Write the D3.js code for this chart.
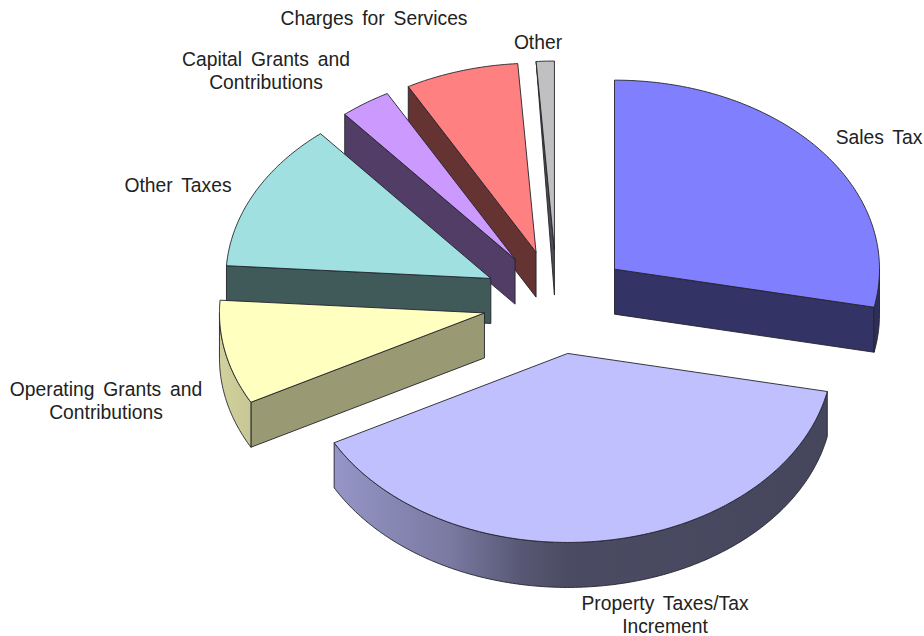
<!DOCTYPE html>
<html>
<head>
<meta charset="utf-8">
<style>
  html, body { margin: 0; padding: 0; background: #fff; }
  svg { display: block; }
  text { font-family: "Liberation Sans", Arial, sans-serif; font-size: 19.3px; fill: #222; word-spacing: 3.5px; }
</style>
<script src="https://cdn.jsdelivr.net/npm/d3@7/dist/d3.min.js"></script>
</head>
<body>
<div id="chart"></div>
<script>
// Revenue shares, clockwise from twelve o'clock (percent)
const categories = ["Sales Tax", "Property Taxes/Tax Increment", "Operating Grants and Contributions",
                    "Other Taxes", "Capital Grants and Contributions", "Charges for Services", "Other"];
const shares = [28.2, 38.9, 8.9, 12.8, 3.1, 6.9, 1.1];
const topColors = ["#8080ff", "#c0c0ff", "#ffffc0", "#a0e0e0", "#cc99ff", "#ff8080", "#c0c0c0"];
const faceShades = [0.4, 0.4, 0.6, 0.4, 0.4, 0.4, 0.4];
// Share of the wall height kept at the outer corner of each radial wall
const cornerDrop = [1, 1, 1, 1, 1, 1, 0];
// Back-to-front painting order, by index into categories
const paintOrder = [6, 5, 4, 3, 2, 0, 1];

// Wrapped label lines with their anchor points
const labelLines = [
  [["Sales Tax", 879, 144]],
  [["Property Taxes/Tax", 665, 610], ["Increment", 665, 633]],
  [["Operating Grants and", 106, 396], ["Contributions", 106, 419]],
  [["Other Taxes", 178, 192]],
  [["Capital Grants and", 266, 66], ["Contributions", 266, 89]],
  [["Charges for Services", 374, 24.5]],
  [["Other", 538, 49]]
];

const width = 924, height = 636;
const cx = 557, cy = 302, rx = 265, ry = 189, depth = 45;
const explodeX = 0.28, explodeY = 0.275;

const xs = d3.scaleLinear().domain([-1, 1]).range([cx - rx, cx + rx]);
const ys = d3.scaleLinear().domain([-1, 1]).range([cy - ry, cy + ry]);
// Wall brightness falls quickly from the lit left side and levels off past the middle
const rimStops = [0, 0.28, 0.41, 0.5, 1];
const rimShade = d3.scaleLinear().domain(rimStops).range([0.82, 0.63, 0.46, 0.39, 0.36]);

const svg = d3.select("#chart").append("svg").attr("width", width).attr("height", height);
const defs = svg.append("defs");
const line = d3.line();

const arcs = d3.pie().sort(null).value(d => d)(shares);

function ringPoints(a0, a1, ox, oy, drop) {
  const n = Math.max(2, Math.ceil((a1 - a0) / 0.01));
  return d3.range(n + 1).map(i => {
    const a = a0 + (a1 - a0) * i / n;
    return [xs(ox + Math.sin(a)), ys(oy - Math.cos(a)) + drop];
  });
}

function shape(pts, fill) {
  svg.append("path")
    .attr("d", line(pts) + "Z")
    .attr("fill", fill)
    .attr("stroke", "#23232b")
    .attr("stroke-width", 0.9)
    .attr("stroke-linejoin", "round");
}

paintOrder.forEach(i => {
  const arc = arcs[i];
  const mid = (arc.startAngle + arc.endAngle) / 2;
  const ox = explodeX * Math.sin(mid), oy = -explodeY * Math.cos(mid);
  const apex = [xs(ox), ys(oy)];
  const base = d3.color(topColors[i]);
  const tint = k => d3.rgb(base.r * k, base.g * k, base.b * k).formatHex();

  // Radial walls: the leading one shows on the left half, the trailing one on the right
  const wall = a => {
    const edge = [xs(ox + Math.sin(a)), ys(oy - Math.cos(a))];
    shape([apex, edge, [edge[0], edge[1] + depth * cornerDrop[i]], [apex[0], apex[1] + depth]], tint(faceShades[i]));
  };
  if (Math.sin(arc.startAngle) < 0) wall(arc.startAngle);
  if (Math.sin(arc.endAngle) > 1e-6) wall(arc.endAngle);

  // Curved outer wall: only the part facing the viewer, lit from the left
  const r0 = Math.max(arc.startAngle, Math.PI / 2), r1 = Math.min(arc.endAngle, Math.PI * 1.5);
  if (r1 > r0) {
    const id = "rim" + i;
    const grad = defs.append("linearGradient").attr("id", id)
      .attr("gradientUnits", "userSpaceOnUse")
      .attr("x1", xs(ox - 1)).attr("x2", xs(ox + 1)).attr("y1", 0).attr("y2", 0);
    rimStops.forEach(t => {
      grad.append("stop").attr("offset", t).attr("stop-color", tint(rimShade(t)));
    });
    const rimTop = ringPoints(r0, r1, ox, oy, 0);
    const rimBottom = ringPoints(r0, r1, ox, oy, depth).reverse();
    shape(rimTop.concat(rimBottom), `url(#${id})`);
  }

  // Top surface
  shape([apex].concat(ringPoints(arc.startAngle, arc.endAngle, ox, oy, 0)), topColors[i]);
});

// Labels
categories.forEach((c, i) => {
  labelLines[i].forEach(([s, x, y]) => {
    svg.append("text").attr("x", x).attr("y", y).attr("text-anchor", "middle").text(s);
  });
});
</script>
</body>
</html>
